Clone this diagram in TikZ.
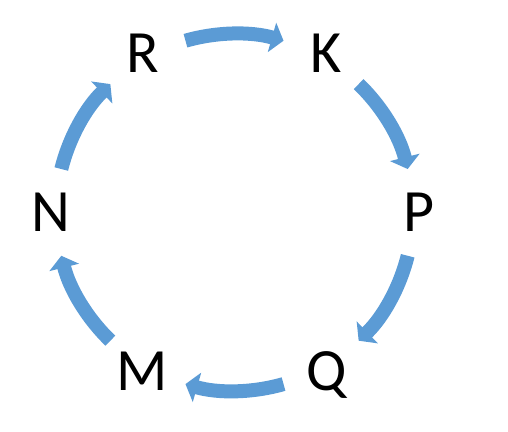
\documentclass[tikz,border=0pt]{standalone}
\usepackage{fontspec}
\setmainfont{Carlito}
\usepackage{tikz}
\usetikzlibrary{arrows.meta}
\definecolor{cycblue}{RGB}{91,155,213}

\begin{document}
\begin{tikzpicture}[x=1pt, y=1pt,
  letter/.style={circle, minimum size=89pt, inner sep=0pt, font=\fontsize{60}{60}\selectfont, text height=38pt, text depth=0pt},
  cyc/.style={cycblue, line width=14pt, -{Triangle[width=30pt,length=12pt]}, bend left=16, looseness=.87}]
  \useasboundingbox (-234.5,-218.6) rectangle (273.5,212.4);
  \foreach \n/\a in {P/0, K/60, R/120, N/180, M/240, Q/300}
    \node[letter] (\n) at (\a:184) {\n};
  \foreach \s/\t in {R/K, K/P, P/Q, Q/M, M/N, N/R}
    \draw[cyc] (\s) to (\t);
\end{tikzpicture}
\end{document}
